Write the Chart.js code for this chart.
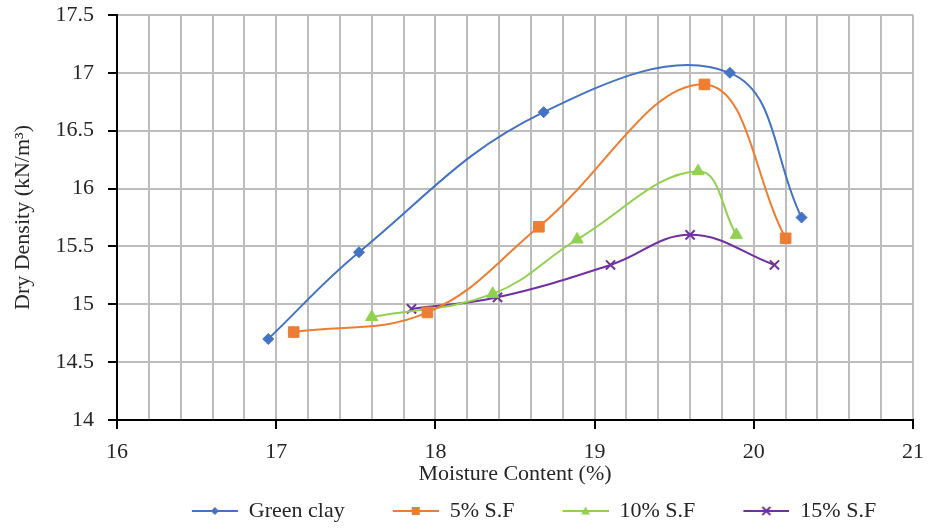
<!DOCTYPE html>
<html>
<head>
<meta charset="utf-8">
<script src="https://cdn.jsdelivr.net/npm/chart.js@4.4.0/dist/chart.umd.min.js"></script>
<style>
body { margin: 0; background: #fff; }
</style>
</head>
<body>
<canvas id="proctorChart" width="934" height="532"></canvas>
<script>
// values
const seriesNames = ["Green clay", "5% S.F", "10% S.F", "15% S.F"];
const moistureGreen = [16.95, 17.52, 18.68, 19.85, 20.30];
const densityGreen  = [14.70, 15.45, 16.66, 17.00, 15.75];
const moisture5  = [17.11, 17.95, 18.65, 19.69, 20.20];
const density5   = [14.76, 14.93, 15.67, 16.90, 15.57];
const moisture10 = [17.60, 18.36, 18.89, 19.65, 19.89];
const density10  = [14.89, 15.09, 15.56, 16.15, 15.60];
const moisture15 = [17.85, 18.39, 19.10, 19.60, 20.13];
const density15  = [14.96, 15.06, 15.34, 15.60, 15.34];

const colors = ["#4472C4", "#ED7D31", "#92D050", "#7030A0"];
const markers = ["rectRot", "rect", "triangle", "crossRot"];
const markerSizes = [5.5, 7.5, 7, 6.5];

function toPoints(xs, ys) {
    return xs.map((x, i) => ({ x: x, y: ys[i] }));
}

// small line + marker picture for the legend, like the excel legend
function legendIcon(color, style) {
    const c = document.createElement("canvas");
    c.width = 84;
    c.height = 14;
    const g = c.getContext("2d");
    g.strokeStyle = color;
    g.fillStyle = color;
    g.lineWidth = 2;
    g.beginPath();
    g.moveTo(38, 7);
    g.lineTo(84, 7);
    g.stroke();
    const cx = 61, cy = 7;
    g.beginPath();
    if (style === "rectRot") {
        g.moveTo(cx, cy - 4); g.lineTo(cx + 4, cy); g.lineTo(cx, cy + 4); g.lineTo(cx - 4, cy);
        g.closePath(); g.fill();
    } else if (style === "rect") {
        g.fillRect(cx - 4, cy - 4, 8, 8);
    } else if (style === "triangle") {
        g.moveTo(cx, cy - 4.5); g.lineTo(cx + 4.5, cy + 3.5); g.lineTo(cx - 4.5, cy + 3.5);
        g.closePath(); g.fill();
    } else {
        g.moveTo(cx - 4, cy - 4); g.lineTo(cx + 4, cy + 4);
        g.moveTo(cx + 4, cy - 4); g.lineTo(cx - 4, cy + 4);
        g.stroke();
    }
    return c;
}

const dataSets = [
    toPoints(moistureGreen, densityGreen),
    toPoints(moisture5, density5),
    toPoints(moisture10, density10),
    toPoints(moisture15, density15)
];

Chart.defaults.font.family = "'Liberation Serif', serif";
Chart.defaults.font.size = 22;
Chart.defaults.color = "#262626";

const isWhole = v => Math.abs(v - Math.round(v)) < 1e-6;

new Chart(document.getElementById("proctorChart"), {
    type: "line",
    data: {
        datasets: seriesNames.map((name, i) => ({
            label: name,
            data: dataSets[i],
            borderColor: colors[i],
            backgroundColor: colors[i],
            borderWidth: 2,
            pointStyle: markers[i],
            pointRadius: markerSizes[i],
            pointBorderWidth: i === 3 ? 2 : 1,
            pointBorderColor: colors[i],
            pointBackgroundColor: colors[i],
            tension: 0.4,
            fill: false
        }))
    },
    options: {
        responsive: false,
        animation: false,
        layout: { padding: { top: 15, right: 18, left: 0, bottom: 0 } },
        scales: {
            x: {
                type: "linear",
                min: 16,
                max: 21,
                afterFit: s => { s.height = 70; },
                ticks: {
                    stepSize: 0.2,
                    autoSkip: false,
                    maxRotation: 0,
                    padding: 10,
                    callback: v => isWhole(v) ? String(Math.round(v)) : ""
                },
                grid: {
                    color: "#bdbdbd",
                    lineWidth: 2,
                    tickLength: 9,
                    tickWidth: 2,
                    tickColor: c => isWhole(c.tick.value) ? "#000" : "rgba(0,0,0,0)"
                },
                border: { color: "#000", width: 2 },
                title: {
                    display: true,
                    text: "Moisture Content (%)",
                    padding: { top: 0, bottom: 3 }
                }
            },
            y: {
                min: 14,
                max: 17.5,
                afterFit: s => { s.width = 117; s.paddingTop = 0; },
                ticks: {
                    stepSize: 0.5,
                    padding: 14,
                    callback: v => String(+v.toFixed(1))
                },
                grid: {
                    color: "#bdbdbd",
                    lineWidth: 2,
                    tickLength: 9,
                    tickWidth: 2,
                    tickColor: "#000"
                },
                border: { color: "#000", width: 2 },
                title: {
                    display: true,
                    text: "Dry Density (kN/m³)",
                    padding: { top: 10, bottom: 0 }
                }
            }
        },
        plugins: {
            legend: {
                position: "bottom",
                fullSize: false,
                labels: {
                    usePointStyle: true,
                    pointStyleWidth: 84,
                    padding: 10,
                    generateLabels: chart => {
                        const items = Chart.defaults.plugins.legend.labels.generateLabels(chart);
                        items.forEach((it, i) => {
                            it.pointStyle = legendIcon(colors[i], markers[i]);
                        });
                        return items;
                    }
                }
            },
            tooltip: { enabled: false }
        }
    }
});
</script>
</body>
</html>
